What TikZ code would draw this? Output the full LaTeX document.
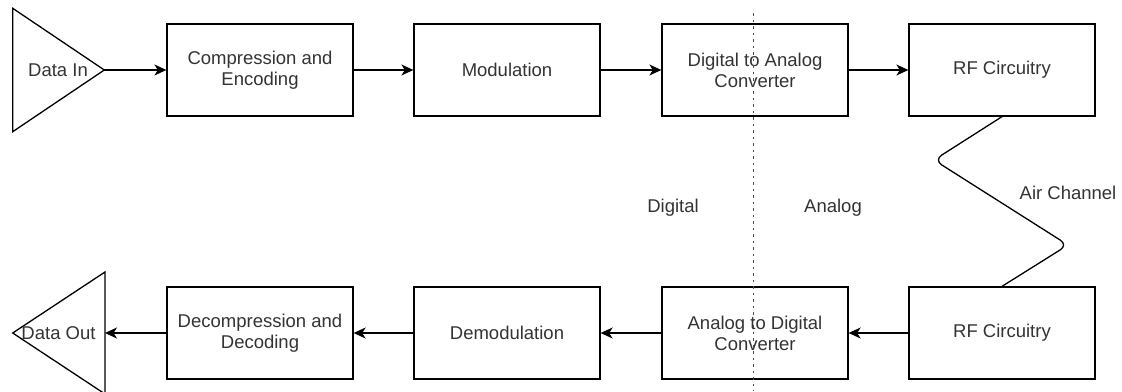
\documentclass[tikz,border=0pt]{standalone}
\usepackage{fontspec}
\setmainfont{Liberation Sans}
\usetikzlibrary{arrows.meta}
\begin{document}
\begin{tikzpicture}[x=1pt,y=-1pt,
  lbl/.style={font=\fontsize{18.5}{21}\selectfont, text=black!80, align=center, inner sep=0pt},
  blockbox/.style={lbl, draw=black, line width=1.3pt, minimum width=186pt, minimum height=92pt},
  flow/.style={line width=1.3pt, -{Stealth[length=12pt,width=11pt,inset=3.5pt]}},
  divider/.style={draw=black!70, line width=1pt, dash pattern=on 2.5pt off 4pt},
  wire/.style={line width=1.3pt, rounded corners=9pt}]
  \useasboundingbox (0,0) rectangle (1122,391);
  \clip (0,0) rectangle (1122,391);

  % transmit chain
  \draw[line width=1.3pt] (12.7,8.3) coordinate (inTop) -- (104.3,70) coordinate (inTip) -- (12.7,131.7) -- cycle;
  \node[lbl] (datain) at (58,70) {Data In};
  \node[blockbox] (comp) at (260,70) {Compression and\\Encoding};
  \node[blockbox] (mod)  at (507,70) {Modulation};
  \node[blockbox] (dac)  at (755,70) {Digital to Analog\\Converter};
  \node[blockbox] (rf1)  at (1002,70) {RF Circuitry};

  % receive chain
  \draw[line width=1.3pt] (105,394) -- (12.7,333) coordinate (outTip) -- (105,272) -- cycle;
  \coordinate (outBack) at (105,333);
  \node[lbl] (dataout) at (58.5,333) {Data Out};
  \node[blockbox] (decomp) at (260,333) {Decompression and\\Decoding};
  \node[blockbox] (demod)  at (507,333) {Demodulation};
  \node[blockbox] (adc)    at (755,333) {Analog to Digital\\Converter};
  \node[blockbox] (rf2)    at (1002,333) {RF Circuitry};

  % signal flow
  \draw[flow] (inTip) -- (comp.west);
  \draw[flow] (comp.east) -- (mod.west);
  \draw[flow] (mod.east) -- (dac.west);
  \draw[flow] (dac.east) -- (rf1.west);
  \draw[flow] (rf2.west) -- (adc.east);
  \draw[flow] (adc.west) -- (demod.east);
  \draw[flow] (demod.west) -- (decomp.east);
  \draw[flow] (decomp.west) -- (outBack);

  % wireless link between the two RF stages
  \coordinate (bendA) at (934,160);
  \coordinate (bendB) at (1068,245);
  \draw[wire] (rf1.south) -- (bendA) -- (bendB) -- (rf2.north);
  \node[lbl] (air) at (1068,193) {Air Channel};

  % digital / analog boundary
  \coordinate (divTop) at (753,13);
  \coordinate (divBot) at (753,391);
  \draw[divider] (divTop) -- (divBot);
  \node[lbl] (dig) at (673,208) {Digital};
  \node[lbl] (ana) at (833,208) {Analog};
\end{tikzpicture}
\end{document}
